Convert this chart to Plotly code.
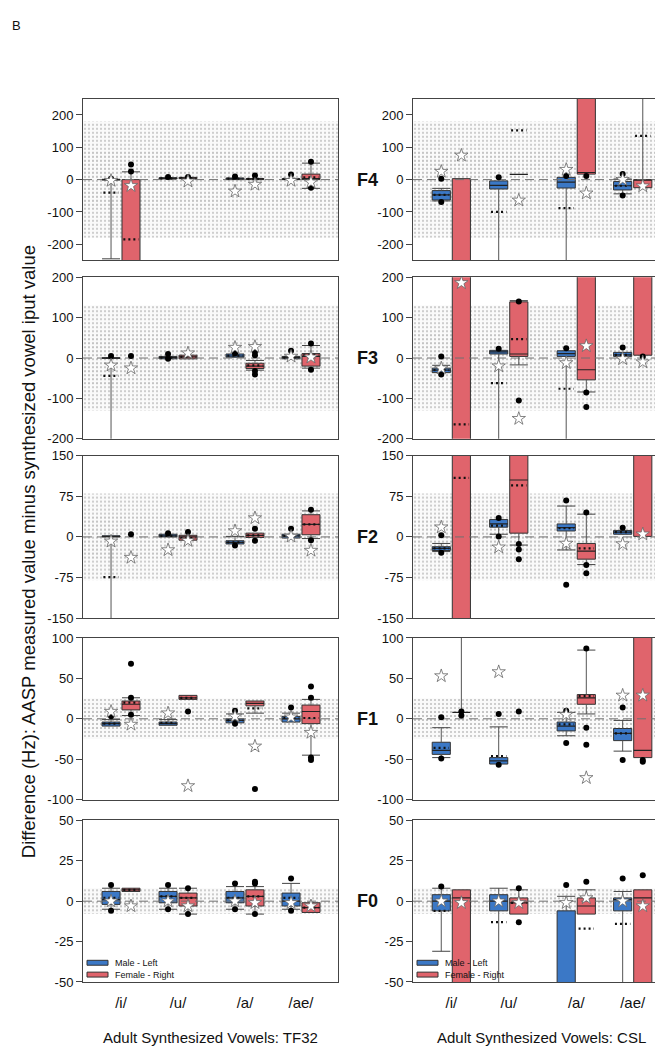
import plotly.graph_objects as go

W, H = 663, 1050
N = None

VOWELS = ["/i/", "/u/", "/a/", "/ae/"]
VOWEL_X = [1.0, 2.0, 3.175, 4.158]
SPEAKERS = ["Male - Left", "Female - Right"]
SPEAKER_COLORS = ["#3b78c6", "#e0646c"]
FORMANTS = ["F4", "F3", "F2", "F1", "F0"]
SYSTEMS = ["TF32", "CSL"]
Y_LIMITS = [250, 200, 150, 100, 50]
Y_TICKS = [[-200, -100, 0, 100, 200], [-200, -100, 0, 100, 200],
           [-150, -75, 0, 75, 150], [-100, -50, 0, 50, 100], [-50, -25, 0, 25, 50]]
TOL_OUTER = [180, 130, 80, 25, 8]
TOL_INNER = [90, 65, 40, 12.5, 4]

# box order in every panel: Mi, Fi, Mu, Fu, Ma, Fa, Mae, Fae
TF32_F4 = dict(
    q1=[-1, -400, 2, 3, 0, 0, 0, 0],
    q3=[1, 0, 6, 7, 5, 3, 3, 17],
    med=[0, N, 4, 5, 2, 2, 1, 3],
    mean=[-40, -185, 4, 5, 3, 2, 2, 7],
    lo=[-245, N, N, N, N, N, N, -27],
    hi=[N, 24, N, N, N, N, N, 51],
    dots=[[3], [47, 25], [8], [8], [10], [13], [16], [55, -25]],
    star=[-3, -19, N, -5, -36, -15, -3, -8],
)
CSL_F4 = dict(
    q1=[-63, -400, -29, 16, -26, 17, -32, -25],
    q3=[-34, 3, -4, 16, 7, 400, -6, 0],
    med=[-47, N, -18, 16, -8, 22, -19, -2],
    mean=[-47, N, -100, 152, -88, N, -19, 135],
    lo=[-66, N, -400, N, -400, N, -44, N],
    hi=[-27, N, N, N, N, N, 2, 400],
    dots=[[3, -69], [], [7], [], [11], [11], [17, -49], []],
    star=[25, 75, N, -64, 31, -42, 0, -20],
)
TF32_F3 = dict(
    q1=[-1, N, -2, -2, 2, -26, -2, -20],
    q3=[1, N, 4, 7, 10, -13, 4, 11],
    med=[0, N, 1, 3, 5, -20, 1, 4],
    mean=[-44, N, 1, 3, 6, -18, 1, 8],
    lo=[-250, N, N, N, N, -30, N, -25],
    hi=[N, N, N, N, N, -6, N, 31],
    dots=[[5], [5], [10, -2], [], [12], [15, 7, -32, -41], [18], [36, -29]],
    star=[-18, -25, N, 12, 26, 28, 4, 2],
)
CSL_F3 = dict(
    q1=[-36, -400, 10, 4, 4, -54, 4, 7],
    q3=[-25, 400, 19, 139, 18, 400, 14, 400],
    med=[-30, N, 15, 10, 11, -29, 8, N],
    mean=[-30, -164, -62, 47, -76, N, 8, N],
    lo=[-36, N, -400, -17, -400, -84, N, N],
    hi=[-18, N, N, 142, N, N, N, N],
    dots=[[4, -41], [], [23], [140, -105], [24], [-85, -121], [26], [4]],
    star=[-25, 186, -20, -150, -12, 30, -2, -10],
)
TF32_F2 = dict(
    q1=[0, N, 0, -6, -13, -1, -2, 4],
    q3=[2, N, 5, 3, -7, 7, 5, 41],
    med=[1, N, 2, 0, -10, 3, 2, 23],
    mean=[-74, N, 2, -2, -10, 3, 2, 23],
    lo=[-200, N, N, N, N, N, N, -3],
    hi=[N, N, N, N, 1, N, N, 48],
    dots=[[], [5], [7], [9], [-16], [15, -7], [15], [50, -6]],
    star=[-8, -38, -24, -7, 11, 35, 1, -25],
)
CSL_F2 = dict(
    q1=[-25, -300, 18, 7, 11, -41, 5, 1],
    q3=[-18, 300, 32, 300, 24, -12, 12, 300],
    med=[-21, N, 24, 105, 17, -26, 9, N],
    mean=[-21, 109, 21, 95, 16, -21, 9, N],
    lo=[-27, N, 5, -15, -24, -51, N, N],
    hi=[-12, N, N, N, 57, 42, N, N],
    dots=[[3, -29], [], [35, 1], [-13, -23, -41], [67, -88], [45, -52, -67], [17], []],
    star=[18, N, -19, N, -12, N, -13, 5],
)
TF32_F1 = dict(
    q1=[-9, 11, -8, 24, -5, 16, -4, -6],
    q3=[-4, 22, -4, 29, 0, 22, 3, 17],
    med=[-6, 18, -6, 26, -2, 19, 0, 9],
    mean=[-6, 20, -5, 26, -2, 13, 1, 1],
    lo=[N, 4, N, N, N, 7, N, -45],
    hi=[-1, 26, -1, N, 6, N, 7, 24],
    dots=[[3], [68, 26, 5], [], [9], [10, -6], [-35, -87], [14], [40, 26, -48, -51]],
    star=[9, -7, 7, -83, 3, -34, 2, -17],
)
CSL_F1 = dict(
    q1=[-44, 8, -56, N, -15, 18, -27, -48],
    q3=[-29, 8, -48, N, -4, 30, -12, 200],
    med=[-39, 8, -52, N, -9, 26, -18, -39],
    mean=[-36, N, -46, N, -7, 28, -18, N],
    lo=[-48, N, N, N, -21, 6, -40, N],
    hi=[-11, 200, -10, N, 8, 85, -2, N],
    dots=[[2, -49], [9, 4], [6, -57], [9], [10, -30], [87, -11, -32], [14, -51], [-51, -53]],
    star=[53, N, 58, N, 5, -73, 29, 29],
)
TF32_F0 = dict(
    q1=[-2, 6, -1, -3, -1, -3, -3, -7],
    q3=[6, 8, 6, 5, 6, 7, 5, -1],
    med=[1, 7, 3, 2, 2, 3, 0, -4],
    mean=[2, 7, 3, 2, 2, 3, 2, -4],
    lo=[-5, N, -5, -8, -5, -8, -5, N],
    hi=[8, N, 8, 8, 9, 9, 11, N],
    dots=[[10, -6], [], [10, -5], [8, -8], [11, -5], [12, 11, -8], [14, -6], []],
    star=[0, -3, 0, -3, 0, -1, -1, -3],
)
CSL_F0 = dict(
    q1=[-6, -100, -6, -8, -100, -8, -6, -100],
    q3=[4, 7, 4, 2, -6, 2, 2, 7],
    med=[0, 2, 0, -1, N, -3, 1, 2],
    mean=[-6, N, -13, -1, N, -17, -14, N],
    lo=[-31, N, -100, N, N, N, -100, N],
    hi=[8, N, 8, 7, 3, 7, 6, N],
    dots=[[9], [], [], [8, -13], [10], [12], [14], [16]],
    star=[0, -1, 0, -1, -1, 2, 0, -3],
)

PANELS = [(TF32_F4, CSL_F4), (TF32_F3, CSL_F3), (TF32_F2, CSL_F2),
          (TF32_F1, CSL_F1), (TF32_F0, CSL_F0)]

# ---------------- geometry (pixels) ----------------
COL_X = [(75, 330), (405, 662)]
ROW_Y = [(85, 249), (266, 430), (447, 612), (632, 796), (817, 981)]
XR = (0.333, 4.807)
HALF = 0.158
OFF = 0.175
FONT = "Arial, Liberation Sans, sans-serif"


def bx(k):
    return VOWEL_X[k // 2] + (OFF if k % 2 else -OFF)


fig = go.Figure()
layout = {}
annotations = []
shapes = []

idx = 0
for r, form in enumerate(FORMANTS):
    for c, sysname in enumerate(SYSTEMS):
        idx += 1
        d = PANELS[r][c]
        xa = "x" if idx == 1 else f"x{idx}"
        ya = "y" if idx == 1 else f"y{idx}"
        ax = dict(xaxis=xa, yaxis=ya, showlegend=False, hoverinfo="skip")
        mid = (XR[0] + XR[1]) / 2
        wid = XR[1] - XR[0]
        # tolerance bands (stippled)
        fig.add_trace(go.Bar(x=[mid], width=[wid], base=[-TOL_OUTER[r]], y=[2 * TOL_OUTER[r]],
                             marker=dict(color="white", line=dict(width=0),
                                         pattern=dict(shape=".", fgcolor="#8c8c8c", bgcolor="#fafafa",
                                                      size=4, solidity=0.22)), **ax))
        fig.add_trace(go.Bar(x=[mid], width=[wid], base=[-TOL_INNER[r]], y=[2 * TOL_INNER[r]],
                             marker=dict(color="rgba(0,0,0,0)", line=dict(width=0),
                                         pattern=dict(shape=".", fgcolor="rgba(120,120,120,0.45)",
                                                      bgcolor="rgba(0,0,0,0)",
                                                      size=4, solidity=0.15)), **ax))
        # zero line
        fig.add_trace(go.Scatter(x=[XR[0], XR[1]], y=[0, 0], mode="lines",
                                 line=dict(color="#707070", width=1, dash="9px,5px"), **ax))
        # whiskers
        wx, wy, cx, cy = [], [], [], []
        for k in range(8):
            if d["q1"][k] is None:
                continue
            if d["hi"][k] is not None:
                wx += [bx(k), bx(k), None]
                wy += [d["q3"][k], d["hi"][k], None]
                cx += [bx(k) - HALF, bx(k) + HALF, None]
                cy += [d["hi"][k], d["hi"][k], None]
            if d["lo"][k] is not None:
                wx += [bx(k), bx(k), None]
                wy += [d["q1"][k], d["lo"][k], None]
                cx += [bx(k) - HALF, bx(k) + HALF, None]
                cy += [d["lo"][k], d["lo"][k], None]
        fig.add_trace(go.Scatter(x=wx, y=wy, mode="lines", line=dict(color="#555", width=1), **ax))
        fig.add_trace(go.Scatter(x=cx, y=cy, mode="lines", line=dict(color="#444", width=1), **ax))
        # boxes
        for g in range(2):
            ks = [k for k in range(8) if k % 2 == g and d["q1"][k] is not None and d["q3"][k] != d["q1"][k]]
            fig.add_trace(go.Bar(x=[bx(k) for k in ks], width=[2 * HALF] * len(ks),
                                 base=[d["q1"][k] for k in ks],
                                 y=[d["q3"][k] - d["q1"][k] for k in ks],
                                 marker=dict(color=SPEAKER_COLORS[g], line=dict(color="#333", width=1)),
                                 **ax))
        # medians
        mx, my = [], []
        for k in range(8):
            if d["med"][k] is not None:
                mx += [bx(k) - HALF, bx(k) + HALF, None]
                my += [d["med"][k], d["med"][k], None]
        fig.add_trace(go.Scatter(x=mx, y=my, mode="lines", line=dict(color="#222", width=1.2), **ax))
        # means
        mx, my = [], []
        for k in range(8):
            if d["mean"][k] is not None:
                mx += [bx(k) - HALF * 0.85, bx(k) + HALF * 0.85, None]
                my += [d["mean"][k], d["mean"][k], None]
        fig.add_trace(go.Scatter(x=mx, y=my, mode="lines",
                                 line=dict(color="#111", width=2.2, dash="2px,3px"), **ax))
        # outlier dots
        ox, oy = [], []
        for k in range(8):
            for v in d["dots"][k]:
                ox.append(bx(k))
                oy.append(v)
        fig.add_trace(go.Scatter(x=ox, y=oy, mode="markers",
                                 marker=dict(color="#000", size=6), **ax))
        # stars
        sx = [bx(k) for k in range(8) if d["star"][k] is not None]
        sy = [d["star"][k] for k in range(8) if d["star"][k] is not None]
        fig.add_trace(go.Scatter(x=sx, y=sy, mode="markers",
                                 marker=dict(symbol="star", color="white", size=10,
                                             line=dict(color="#666", width=0.8)), **ax))

        x0, x1 = COL_X[c]
        y0, y1 = ROW_Y[r]
        bottom = r == len(FORMANTS) - 1
        layout["xaxis" if idx == 1 else f"xaxis{idx}"] = dict(
            domain=[x0 / W, x1 / W], range=list(XR), anchor=ya,
            showline=True, mirror=True, linecolor="#444", linewidth=1,
            showgrid=False, zeroline=False,
            tickvals=VOWEL_X, ticktext=VOWELS, showticklabels=bottom,
            ticks="outside" if bottom else "", ticklen=7, tickcolor="rgba(0,0,0,0)",
            tickfont=dict(size=15, color="#111", family=FONT))
        lim = Y_LIMITS[r]
        layout["yaxis" if idx == 1 else f"yaxis{idx}"] = dict(
            domain=[1 - y1 / H, 1 - y0 / H], range=[-lim, lim], anchor=xa,
            showline=True, mirror=True, linecolor="#444", linewidth=1,
            showgrid=False, zeroline=False,
            tickvals=Y_TICKS[r], ticktext=[str(v) for v in Y_TICKS[r]],
            ticks="outside", ticklen=6, tickcolor="#444",
            tickfont=dict(size=13, color="#111", family=FONT))
        if c == 1:
            annotations.append(dict(x=359 / W, xref="paper", y=0, yref=ya, text=f"<b>{form}</b>",
                                    showarrow=False, xanchor="center", yanchor="middle",
                                    font=dict(size=18, color="#111", family=FONT)))

# legends (one in each bottom panel)
for c in range(2):
    sx0 = COL_X[c][0] + 4
    for g in range(2):
        yc = 961.5 + g * 12
        shapes.append(dict(type="rect", xref="paper", yref="paper",
                           x0=sx0 / W, x1=(sx0 + 21) / W, y0=1 - (yc + 2.5) / H, y1=1 - (yc - 2.5) / H,
                           fillcolor=SPEAKER_COLORS[g], line=dict(color="#333", width=1)))
        annotations.append(dict(x=(sx0 + 26) / W, xref="paper", y=1 - yc / H, yref="paper",
                                text=SPEAKERS[g], showarrow=False, xanchor="left", yanchor="middle",
                                font=dict(size=9, color="#111", family=FONT)))

annotations.append(dict(x=20 / W, xref="paper", y=1 - 545 / H, yref="paper", textangle=-90,
                        text="Difference (Hz): AASP measured value minus synthesized vowel iput value",
                        showarrow=False, xanchor="center", yanchor="middle",
                        font=dict(size=18.5, color="#111", family=FONT)))
for c, sysname in enumerate(SYSTEMS):
    annotations.append(dict(x=(COL_X[c][0] + COL_X[c][1]) / 2 / W, xref="paper", y=1 - 1037 / H,
                            yref="paper", text=f"Adult Synthesized Vowels: {sysname}",
                            showarrow=False, xanchor="center", yanchor="middle",
                            font=dict(size=15, color="#111", family=FONT)))
annotations.append(dict(x=2 / W, xref="paper", y=1 - 11 / H, yref="paper", text="B",
                        showarrow=False, xanchor="left", yanchor="middle",
                        font=dict(size=13, color="#111", family=FONT)))

fig.update_layout(width=W, height=H, autosize=False, margin=dict(l=0, r=0, t=0, b=0),
                  paper_bgcolor="white", plot_bgcolor="white", barmode="overlay",
                  showlegend=False, annotations=annotations, shapes=shapes,
                  font=dict(family=FONT), **layout)
fig.write_html("out.html")
